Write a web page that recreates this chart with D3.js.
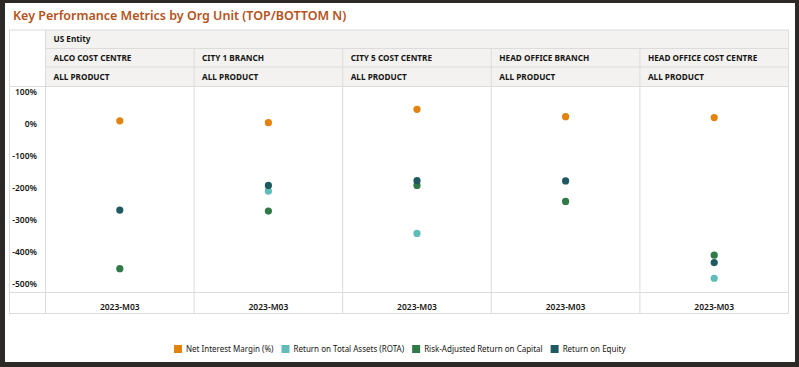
<!DOCTYPE html>
<html><head><meta charset="utf-8">
<script src="https://cdn.jsdelivr.net/npm/d3@7"></script>
<style>
html,body{margin:0;padding:0;background:#2d2926;}
svg{display:block;}
text{font-family:"Noto Sans","Open Sans",sans-serif;}
</style></head>
<body><svg id="c" width="799" height="367"></svg>
<script>
const title = "Key Performance Metrics by Org Unit (TOP/BOTTOM N)";
const entity = "US Entity";
const orgUnits = ["ALCO COST CENTRE","CITY 1 BRANCH","CITY 5 COST CENTRE","HEAD OFFICE BRANCH","HEAD OFFICE COST CENTRE"];
const product = "ALL PRODUCT";
const period = "2023-M03";
const seriesNames = ["Net Interest Margin (%)","Return on Total Assets (ROTA)","Risk-Adjusted Return on Capital","Return on Equity"];
const seriesColors = ["#e2820f","#5fbcb8","#2f7a47","#1f5a63"];
const nim   = [10, 4, 46, 23, 20];
const rota  = [null, -210, -342, null, -482];
const raroc = [-452, -272, -192, -242, -410];
const roe   = [-269, -192, -177, -178, -433];
const yTicks = [100, 0, -100, -200, -300, -400, -500];
const seriesValues = [nim, rota, raroc, roe];

const svg = d3.select("#c");
svg.append("rect").attr("x",5).attr("y",3).attr("width",790).attr("height",359).attr("fill","#fff");
svg.append("text").attr("x",13).attr("y",20).attr("fill","#b4531c")
  .attr("font-size",12.5).attr("font-weight",600).text(title);

const L = 9.5, axisR = 45.5, R = 788.5;
const rows = [30, 48.5, 67, 86.5];
const plotTop = 86.5, plotBottom = 292.5, tableBottom = 313.5;
const border = "#dcdcdc", hdrFill = "#f3f2f0";

const x = d3.scaleBand().domain(orgUnits).range([axisR, R]);
// calibrated: 0% -> y 124, 100% = 32px
const y = d3.scaleLinear().domain([(124-plotBottom)/0.32, (124-plotTop)/0.32]).range([plotBottom, plotTop]);

svg.append("rect").attr("x",axisR).attr("y",rows[0]).attr("width",R-axisR).attr("height",rows[3]-rows[0]).attr("fill",hdrFill);

const g = svg.append("g").attr("stroke",border).attr("stroke-width",1).attr("fill","none");
g.append("rect").attr("x",L).attr("y",rows[0]).attr("width",R-L).attr("height",tableBottom-rows[0]);
[rows[1], rows[2]].forEach(yy=>{
  g.append("line").attr("x1",axisR).attr("x2",R).attr("y1",yy).attr("y2",yy);
});
[rows[3], plotBottom].forEach(yy=>{
  g.append("line").attr("x1",L).attr("x2",R).attr("y1",yy).attr("y2",yy);
});
g.append("line").attr("x1",axisR).attr("x2",axisR).attr("y1",rows[0]).attr("y2",tableBottom);
orgUnits.slice(1).forEach(d=>{
  g.append("line").attr("x1",x(d)).attr("x2",x(d)).attr("y1",rows[1]).attr("y2",tableBottom);
});

const hdr = svg.append("g").attr("font-size",8.2).attr("font-weight",700).attr("fill","#161513");
hdr.append("text").attr("x",axisR+8).attr("y",42).text(entity);
orgUnits.forEach(d=>{
  hdr.append("text").attr("x",x(d)+8).attr("y",61).text(d);
  hdr.append("text").attr("x",x(d)+8).attr("y",80).text(product);
  svg.append("text").attr("x",x(d)+x.bandwidth()/2).attr("y",309.5).attr("text-anchor","middle")
    .attr("font-size",8.5).attr("font-weight",600).attr("fill","#161513").text(period);
});

const yAxis = d3.axisLeft(y).tickValues(yTicks).tickSize(0).tickPadding(0).tickFormat(d=>d+"%");
const ag = svg.append("g").attr("transform",`translate(37,0)`).call(yAxis);
ag.select(".domain").remove();
ag.selectAll("text").attr("font-size",8.5).attr("font-weight",600).attr("fill","#161513")
  .attr("font-family",'"Noto Sans","Open Sans",sans-serif');

seriesValues.forEach((vals,si)=>{
  svg.append("g").selectAll("circle").data(orgUnits.map((u,i)=>({u,v:vals[i]})).filter(d=>d.v!=null))
    .join("circle").attr("cx",d=>x(d.u)+x.bandwidth()/2).attr("cy",d=>y(d.v)).attr("r",3.6)
    .attr("fill",seriesColors[si]);
});

const lg = svg.append("g").attr("font-size",8).attr("fill","#161513");
let cx = 174;
seriesNames.forEach((n,i)=>{
  lg.append("rect").attr("x",cx).attr("y",345).attr("width",8).attr("height",8).attr("fill",seriesColors[i]);
  const t = lg.append("text").attr("x",cx+12).attr("y",352).text(n);
  cx = cx + 12 + t.node().getComputedTextLength() + 8;
});
</script></body></html>
